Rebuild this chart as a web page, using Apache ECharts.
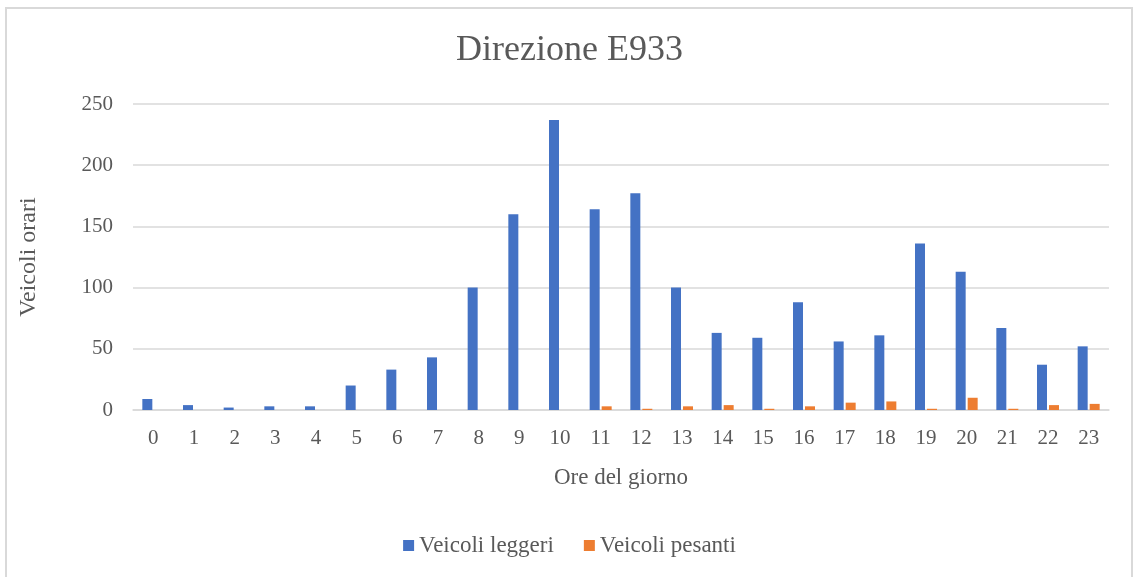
<!DOCTYPE html>
<html>
<head>
<meta charset="utf-8">
<script src="https://cdn.jsdelivr.net/npm/echarts@6/dist/echarts.min.js"></script>
<style>
  body { margin: 0; background: #fff; }
  #frame { position: absolute; left: 5px; top: 7px; width: 1128px; height: 580px; border: 2px solid #d9d9d9; box-sizing: border-box; }
  #main { position: absolute; left: 0; top: 0; width: 1139px; height: 577px; }
</style>
</head>
<body>
<div id="frame"></div>
<div id="main"></div>
<script>
// ore del giorno
var hours = ['0','1','2','3','4','5','6','7','8','9','10','11','12','13','14','15','16','17','18','19','20','21','22','23'];
var leggeri = [9, 4, 2, 3, 3, 20, 33, 43, 100, 160, 237, 164, 177, 100, 63, 59, 88, 56, 61, 136, 113, 67, 37, 52];
var pesanti = [0, 0, 0, 0, 0, 0, 0, 0, 0, 0, 0, 3, 1, 3, 4, 1, 3, 6, 7, 1, 10, 1, 4, 5];

var myChart = echarts.init(document.getElementById('main'));
var font = 'Liberation Serif';
var option = {
  animation: false,
  title: {
    text: 'Direzione E933',
    left: 'center',
    top: 28,
    textStyle: { fontFamily: font, fontSize: 36, fontWeight: 'normal', color: '#595959' }
  },
  legend: {
    bottom: 15,
    left: 'center',
    itemWidth: 11,
    itemHeight: 11,
    itemGap: 30,
    icon: 'rect',
    textStyle: { fontFamily: font, fontSize: 23, color: '#595959' },
    data: ['Veicoli leggeri', 'Veicoli pesanti']
  },
  grid: { left: 133, right: 30, top: 104, bottom: 167 },
  xAxis: {
    type: 'category',
    data: hours,
    name: 'Ore del giorno',
    nameLocation: 'middle',
    nameGap: 56,
    nameTextStyle: { fontFamily: font, fontSize: 23, color: '#595959' },
    axisLine: { lineStyle: { color: '#d9d9d9', width: 1.5 } },
    axisTick: { show: false },
    axisLabel: { fontFamily: font, fontSize: 21, color: '#595959', margin: 18 }
  },
  yAxis: {
    type: 'value',
    min: 0,
    max: 250,
    interval: 50,
    name: 'Veicoli orari',
    nameLocation: 'middle',
    nameGap: 92,
    nameTextStyle: { fontFamily: font, fontSize: 24, color: '#595959' },
    axisLine: { show: false },
    axisTick: { show: false },
    axisLabel: { fontFamily: font, fontSize: 21, color: '#595959', margin: 20 },
    splitLine: { lineStyle: { color: '#d9d9d9', width: 1.5 } }
  },
  series: [
    {
      name: 'Veicoli leggeri',
      type: 'bar',
      data: leggeri,
      barWidth: 10,
      barGap: '20%',
      itemStyle: { color: '#4472C4' }
    },
    {
      name: 'Veicoli pesanti',
      type: 'bar',
      data: pesanti,
      barWidth: 10,
      itemStyle: { color: '#ED7D31' }
    }
  ]
};
myChart.setOption(option);
</script>
</body>
</html>
